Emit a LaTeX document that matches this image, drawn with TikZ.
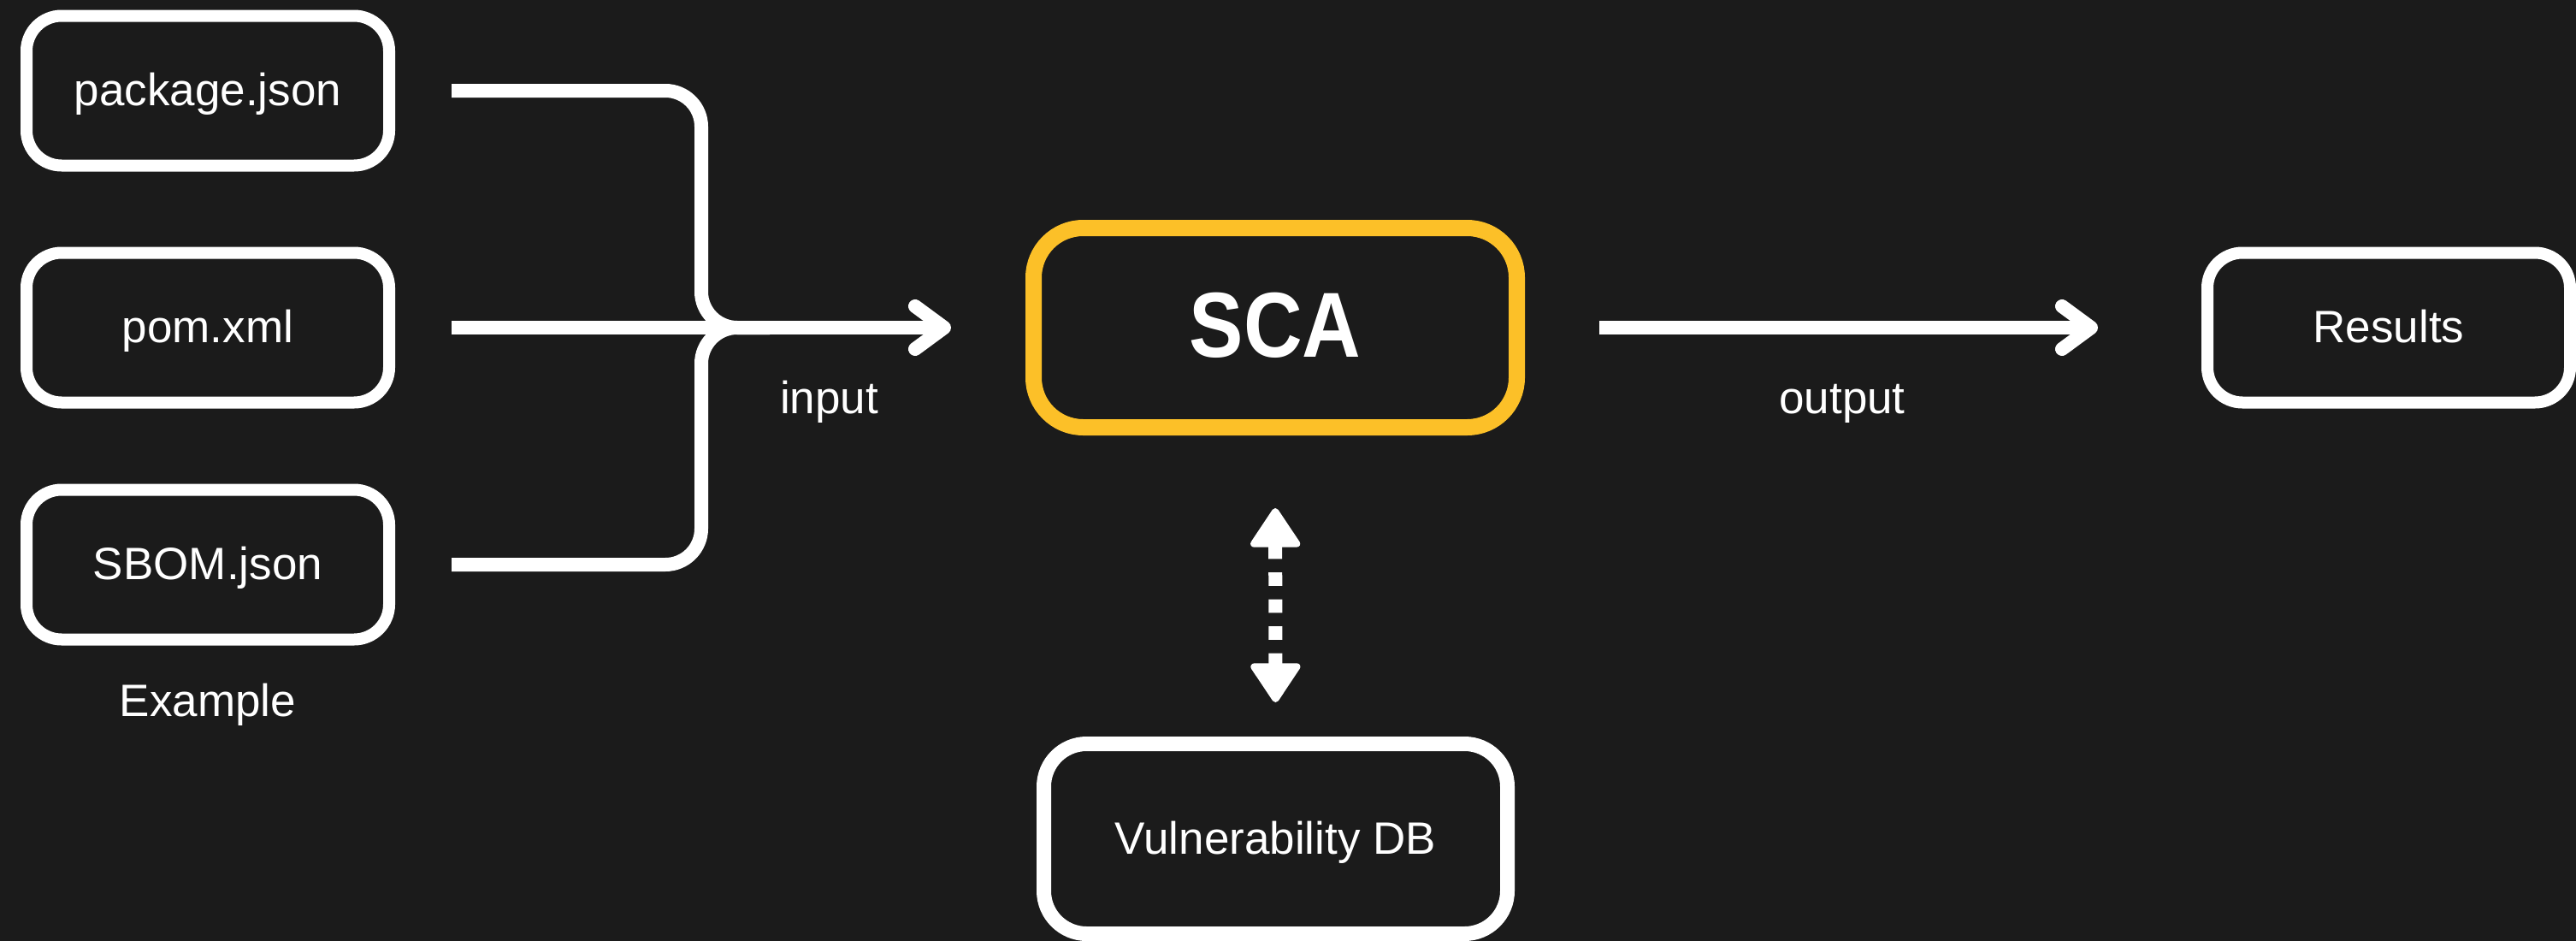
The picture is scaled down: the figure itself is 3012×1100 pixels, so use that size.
\documentclass[tikz,border=0pt]{standalone}
\usepackage{fontspec}
\setmainfont{Liberation Sans}
\newfontfamily\headfont[FakeStretch=0.88]{Liberation Sans}
\usetikzlibrary{arrows.meta,calc}

\definecolor{bgc}{RGB}{27,27,27}
\definecolor{scayellow}{RGB}{252,192,40}

\begin{document}
\begin{tikzpicture}[x=1pt,y=-1pt,
  filebox/.style={draw=white, line width=14pt, rounded corners=41pt,
    minimum width=424pt, minimum height=175pt, inner sep=0pt,
    text=white, font=\fontsize{53pt}{60pt}\selectfont,
    text height=35pt, text depth=0pt},
  corebox/.style={draw=scayellow, line width=19pt, rounded corners=58pt,
    minimum width=565pt, minimum height=233pt, inner sep=0pt,
    text=white, font=\headfont\bfseries\fontsize{108pt}{120pt}\selectfont,
    text height=68pt, text depth=0pt},
  dbbox/.style={draw=white, line width=17pt, rounded corners=50pt,
    minimum width=542pt, minimum height=222pt, inner sep=0pt,
    text=white, font=\fontsize{53pt}{60pt}\selectfont,
    text height=35pt, text depth=0pt},
  caption/.style={text=white, font=\fontsize{53pt}{60pt}\selectfont,
    inner sep=0pt, anchor=base},
  wire/.style={draw=white, line width=16pt},
  chevron/.style={-{Straight Barb[length=34pt, width=50pt, round]}},
  bothtips/.style={{Triangle[width=63pt, length=49pt, line width=8pt, round]}-{Triangle[width=63pt, length=49pt, line width=8pt, round]}},
  dotlink/.style={draw=white, line width=16pt, dash pattern=on 15.75pt off 15.75pt}
]
\useasboundingbox (0,0) rectangle (3012,1100);
\fill[bgc] (0,0) rectangle (3012,1100);

% input files
\node[filebox] (pkg)  at (243,106) {package.json};
\node[filebox] (pom)  at (243,383) {pom.xml};
\node[filebox] (sbom) at (243,660) {SBOM.json};
\node[caption] (ex) at (243,837) {Example};

% scanner, database and results
\node[corebox] (sca) at (1491,383) {SCA};
\node[dbbox]   (vdb) at (1491.5,980.5) {Vulnerability DB};
\node[filebox] (res) at (2793,383) {Results};

% merging input lines
\coordinate (join) at (820,383);
\draw[wire, rounded corners=42pt] ($(pkg.east)+(66,0)$) -| (join) -- ++(80,0);
\draw[wire, rounded corners=42pt] ($(sbom.east)+(66,0)$) -| (join) -- ++(80,0);
\draw[wire, chevron, shorten >=87pt] ($(pom.east)+(66,0)$) -- (sca.west);
\node[caption] (inlbl) at (969.5,483) {input};

% output
\draw[wire, chevron, shorten <=87pt, shorten >=121pt] (sca.east) -- (res.west);
\node[caption] (outlbl) at (2154,483) {output};

% lookup in the vulnerability database
\draw[dotlink, bothtips, shorten <=85pt, shorten >=40pt] (sca.south) -- (vdb.north);
\end{tikzpicture}
\end{document}
